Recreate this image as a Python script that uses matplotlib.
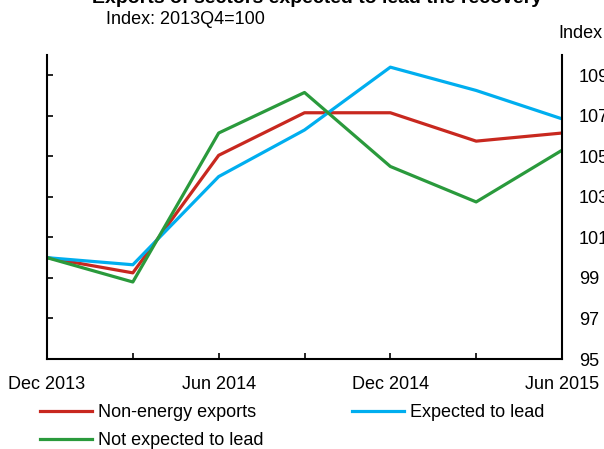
import matplotlib
matplotlib.use("Agg")
import matplotlib.pyplot as plt

plt.rcParams["font.family"] = ["Liberation Sans", "DejaVu Sans"]

# Data (quarterly, index 2013Q4 = 100)
quarters = ["Dec 2013", "Mar 2014", "Jun 2014", "Sep 2014",
            "Dec 2014", "Mar 2015", "Jun 2015"]
non_energy = [100.0, 99.25, 105.05, 107.15, 107.15, 105.75, 106.15]
expected = [100.0, 99.65, 104.0, 106.3, 109.4, 108.25, 106.85]
not_expected = [100.0, 98.8, 106.15, 108.15, 104.5, 102.75, 105.3]

tick_labels = ["Dec 2013", "Jun 2014", "Dec 2014", "Jun 2015"]
y_ticks = [97, 99, 101, 103, 105, 107, 109]
y_labels = ["95", "97", "99", "101", "103", "105", "107", "109"]

fig = plt.figure(figsize=(6.04, 4.49), dpi=100)
ax = fig.add_axes([47 / 604, 1 - 359 / 449, (562 - 47) / 604, (359 - 55) / 449])

x = list(range(len(quarters)))
l_red, = ax.plot(x, non_energy, color="#c8281f", lw=2.3, label="Non-energy exports")
l_blue, = ax.plot(x, expected, color="#00aeef", lw=2.3, label="Expected to lead")
l_green, = ax.plot(x, not_expected, color="#2a9a3c", lw=2.3, label="Not expected to lead")

ax.set_xlim(0, 6)
ax.set_ylim(95, 110)

ax.spines["top"].set_visible(False)
for s in ["left", "right", "bottom"]:
    ax.spines[s].set_linewidth(1.5)

ax.set_xticks(x)
ax.set_xticklabels([q if q in tick_labels else "" for q in quarters], fontsize=13)
ax.tick_params(axis="x", direction="in", length=4.5, width=1.2, pad=12)

ax.set_yticks(y_ticks)
ax.tick_params(axis="y", direction="in", length=4.5, width=1.2,
               left=True, right=True, labelleft=False, labelright=False)

# right-hand labels (95 sits on the bottom spine)
ax2 = ax.twinx()
ax2.set_ylim(95, 110)
ax2.set_yticks([95] + y_ticks)
ax2.set_yticklabels(y_labels, fontsize=13)
ax2.tick_params(axis="y", length=0, pad=12)
for s in ax2.spines.values():
    s.set_visible(False)

fig.text(558 / 604, 1 - 33 / 449, "Index", fontsize=13, va="center", ha="left")
fig.text(106 / 604, 1 - 20 / 449, "Index: 2013Q4=100", fontsize=13, va="center", ha="left")
fig.text(92 / 604, 1 - 3 / 449, "Exports of sectors expected to lead the recovery",
         fontsize=14, fontweight="bold", va="baseline", ha="left")

fig.legend(handles=[l_red, l_green, l_blue], ncol=2, frameon=False,
           loc="upper left", bbox_to_anchor=(40 / 604, 1 - 404 / 449),
           borderpad=0, borderaxespad=0, fontsize=13,
           handlelength=2.9, handletextpad=0.3, columnspacing=4.9,
           labelspacing=0.6)

plt.savefig("out.png", dpi=100)
